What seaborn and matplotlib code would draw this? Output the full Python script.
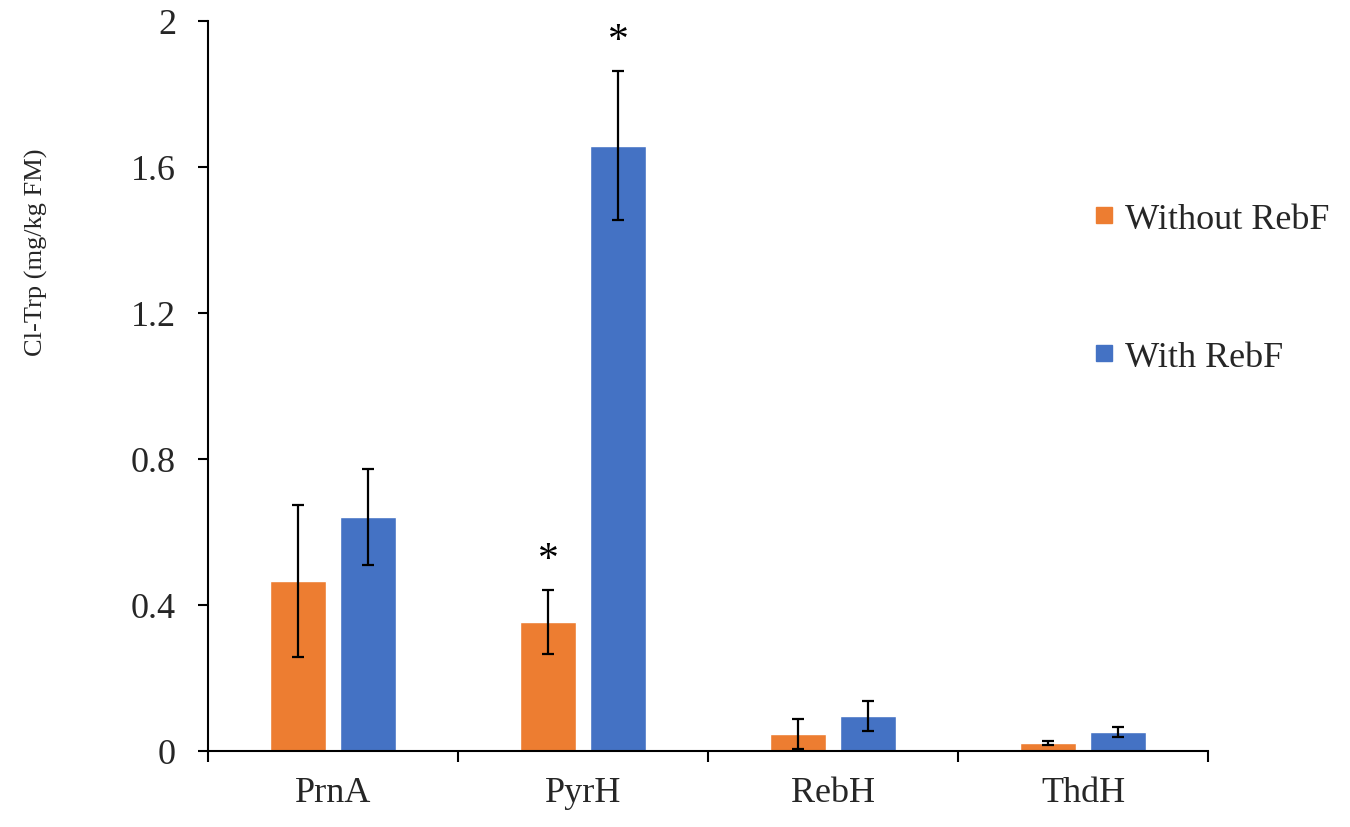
import matplotlib
matplotlib.use("Agg")
import matplotlib.pyplot as plt
import seaborn as sns
import pandas as pd
import numpy as np
from matplotlib.ticker import FixedLocator, FuncFormatter
from matplotlib.lines import Line2D

categories = ["PrnA", "PyrH", "RebH", "ThdH"]
groups = ["Without RebF", "With RebF"]
without_vals = [0.466, 0.353, 0.047, 0.022]
without_err = [0.208, 0.088, 0.042, 0.005]
with_vals = [0.641, 1.658, 0.096, 0.051]
with_err = [0.131, 0.204, 0.041, 0.014]
significant_without = [False, True, False, False]
significant_with = [False, True, False, False]
colors = ["#ED7D31", "#4472C4"]

df = pd.DataFrame({
    "gene": categories * 2,
    "group": [groups[0]] * 4 + [groups[1]] * 4,
    "value": without_vals + with_vals,
})
errs = {groups[0]: without_err, groups[1]: with_err}
sigs = {groups[0]: significant_without, groups[1]: significant_with}

sns.set_theme(style="white")
plt.rcParams["font.family"] = ["Liberation Serif", "DejaVu Serif"]

fig = plt.figure(figsize=(13.5, 8.28), dpi=100)
ax = fig.add_axes([208 / 1350, 76 / 828, 1000 / 1350, 730 / 828])

sns.barplot(data=df, x="gene", y="value", hue="group", order=categories,
            hue_order=groups, palette=colors, width=0.56, gap=0.2,
            errorbar=None, legend=False, ax=ax, saturation=1)

for gi, g in enumerate(groups):
    cont = ax.containers[gi]
    xs = [p.get_x() + p.get_width() / 2 for p in cont.patches]
    vals = [p.get_height() for p in cont.patches]
    ax.errorbar(xs, vals, yerr=errs[g], fmt="none", ecolor="black",
                elinewidth=1.6, capsize=4.5, capthick=1.6, zorder=5)
    for x, v, e, s in zip(xs, vals, errs[g], sigs[g]):
        if s:
            ax.text(x, v + e + 0.055, "*", ha="center", va="baseline",
                    fontsize=30, color="black")

ax.set_xlim(-0.5, 3.5)
ax.set_ylim(0, 2)
ax.set_yticks([0, 0.4, 0.8, 1.2, 1.6, 2.0])
ax.yaxis.set_major_formatter(FuncFormatter(lambda v, p: f"{v:g}"))
ax.set_xticks(range(len(categories)))
ax.set_xticklabels(categories)
ax.xaxis.set_minor_locator(FixedLocator([-0.5, 0.5, 1.5, 2.5, 3.5]))
ax.tick_params(axis="x", which="major", length=0, pad=18, labelsize=26)
ax.tick_params(axis="x", which="minor", length=8, width=1.5, direction="out",
               color="black", bottom=True)
ax.tick_params(axis="y", which="major", length=7, width=1.5, direction="out",
               color="black", left=True, labelsize=26, pad=16)
for s in ["top", "right"]:
    ax.spines[s].set_visible(False)
for s in ["left", "bottom"]:
    ax.spines[s].set_color("black")
    ax.spines[s].set_linewidth(1.5)
ax.set_xlabel("")
ax.set_ylabel("Cl-Trp (mg/kg FM)", fontsize=19)
ax.yaxis.set_label_coords(-(208 - 48) / 1000, (752 - 252) / 730)

handles = [Line2D([], [], marker="s", linestyle="none", markersize=12,
                  markerfacecolor=c, markeredgecolor=c) for c in colors]
fig.legend(handles, groups, loc="upper left", bbox_to_anchor=(1064 / 1350, 1 - 178 / 828),
           frameon=False, fontsize=26, labelspacing=2.9, handletextpad=0.2,
           handlelength=0.8, borderpad=0.2)

fig.savefig("out.png", dpi=100, facecolor="white")
